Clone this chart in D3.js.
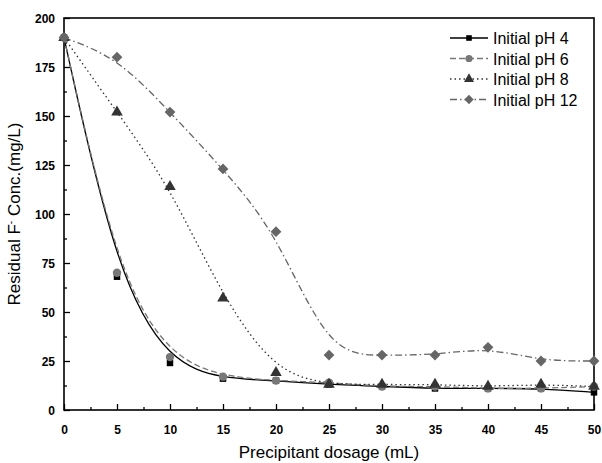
<!DOCTYPE html>
<html>
<head>
<meta charset="utf-8">
<script src="https://cdn.jsdelivr.net/npm/d3@7"></script>
<style>
  body { margin: 0; background: #fff; }
  svg text { font-family: Arial, "Liberation Sans", sans-serif; }
</style>
</head>
<body>
<div id="chart"></div>
<script>
// data
var dosage = [0, 5, 10, 15, 20, 25, 30, 35, 40, 45, 50];
var ph4  = [190, 68, 24, 16, 15, 13, 12, 11, 11, 11, 9];
var ph6  = [190, 70, 27, 17, 15, 14, 12, 12, 11, 11, 12];
var ph8  = [190, 152, 114, 57, 19, 13, 13, 13, 12, 13, 12];
var ph12 = [190, 180, 152, 123, 91, 28, 28, 28, 32, 25, 25];
var seriesNames = ["Initial pH 4", "Initial pH 6", "Initial pH 8", "Initial pH 12"];
var xTicks = [0, 5, 10, 15, 20, 25, 30, 35, 40, 45, 50];
var yTicks = [0, 25, 50, 75, 100, 125, 150, 175, 200];

var w = 602, h = 463;
var pL = 64, pR = 594, pT = 18, pB = 410;

var svg = d3.select("#chart").append("svg")
  .attr("width", w).attr("height", h);

var x = d3.scaleLinear().domain([0, 50]).range([pL, pR]);
var y = d3.scaleLinear().domain([0, 200]).range([pB, pT]);

// diamond = square turned 45 deg
var styles = [
  {vals: ph4,  line: "#000", dash: null,        mark: d3.symbolSquare,   size: 42, rot: 0,  fill: "#000"},
  {vals: ph6,  line: "#777", dash: "6,3",       mark: d3.symbolCircle,   size: 55, rot: 0,  fill: "#777"},
  {vals: ph8,  line: "#333", dash: "1.5,3",     mark: d3.symbolTriangle, size: 58, rot: 0,  fill: "#333"},
  {vals: ph12, line: "#666", dash: "7,3,1.5,3", mark: d3.symbolSquare,   size: 58, rot: 45, fill: "#666"}
];

// axes (ticks inward)
var xAxis = d3.axisBottom(x).tickValues(d3.range(0, 50.1, 2.5))
  .tickSize(-6).tickFormat(function(d) { return xTicks.indexOf(d) >= 0 ? d : ""; });
var gx = svg.append("g").attr("transform", "translate(0," + pB + ")").call(xAxis);
gx.selectAll(".tick line").attr("y2", function(d) { return d % 5 === 0 ? -6 : -3; })
  .attr("stroke-width", 1.3);
gx.selectAll(".tick text").attr("dy", 0).attr("y", 24)
  .attr("font-size", 12).attr("font-weight", "bold");
gx.select(".domain").remove();

var yAxis = d3.axisLeft(y).tickValues(d3.range(0, 200.1, 12.5))
  .tickSize(-6).tickFormat(function(d) { return yTicks.indexOf(d) >= 0 ? d : ""; });
var gy = svg.append("g").attr("transform", "translate(" + pL + ",0)").call(yAxis);
gy.selectAll(".tick line").attr("x2", function(d) { return d % 25 === 0 ? 6 : 3; })
  .attr("stroke-width", 1.3);
gy.selectAll(".tick text").attr("x", -9).attr("dy", "0.35em")
  .attr("font-size", 12).attr("font-weight", "bold");
gy.select(".domain").remove();

svg.append("rect").attr("x", pL).attr("y", pT)
  .attr("width", pR - pL).attr("height", pB - pT)
  .attr("fill", "none").attr("stroke", "#000").attr("stroke-width", 1.6);

// curves
var line = d3.line()
  .x(function(d, i) { return x(dosage[i]); })
  .y(function(d) { return y(d); })
  .curve(d3.curveBasis);

var plot = svg.append("g");
styles.forEach(function(s) {
  plot.append("path").attr("d", line(s.vals))
    .attr("fill", "none").attr("stroke", s.line).attr("stroke-width", 1.3)
    .attr("stroke-dasharray", s.dash);
});
styles.forEach(function(s) {
  plot.selectAll(null).data(s.vals).enter().append("path")
    .attr("d", d3.symbol().type(s.mark).size(s.size))
    .attr("transform", function(d, i) {
      return "translate(" + x(dosage[i]) + "," + y(d) + ") rotate(" + s.rot + ")";
    })
    .attr("fill", s.fill);
});

// legend
var lg = svg.append("g");
styles.forEach(function(s, i) {
  var ly = 38 + i * 20.5;
  lg.append("line").attr("x1", 450).attr("x2", 488).attr("y1", ly).attr("y2", ly)
    .attr("stroke", s.line).attr("stroke-width", 1.3).attr("stroke-dasharray", s.dash);
  lg.append("path").attr("d", d3.symbol().type(s.mark).size(s.size * 0.75))
    .attr("transform", "translate(469," + ly + ") rotate(" + s.rot + ")").attr("fill", s.fill);
  lg.append("text").attr("x", 493).attr("y", ly + 6)
    .attr("font-size", 16).text(seriesNames[i]);
});

// axis titles
svg.append("text").attr("x", (pL + pR) / 2).attr("y", 458)
  .attr("text-anchor", "middle").attr("font-size", 17)
  .text("Precipitant dosage (mL)");

var yt = svg.append("text")
  .attr("transform", "translate(20," + ((pT + pB) / 2) + ") rotate(-90)")
  .attr("text-anchor", "middle").attr("font-size", 17);
yt.append("tspan").text("Residual F");
yt.append("tspan").attr("dy", -6).attr("font-size", 10).text("-");
yt.append("tspan").attr("dy", 6).text(" Conc.(mg/L)");
</script>
</body>
</html>
